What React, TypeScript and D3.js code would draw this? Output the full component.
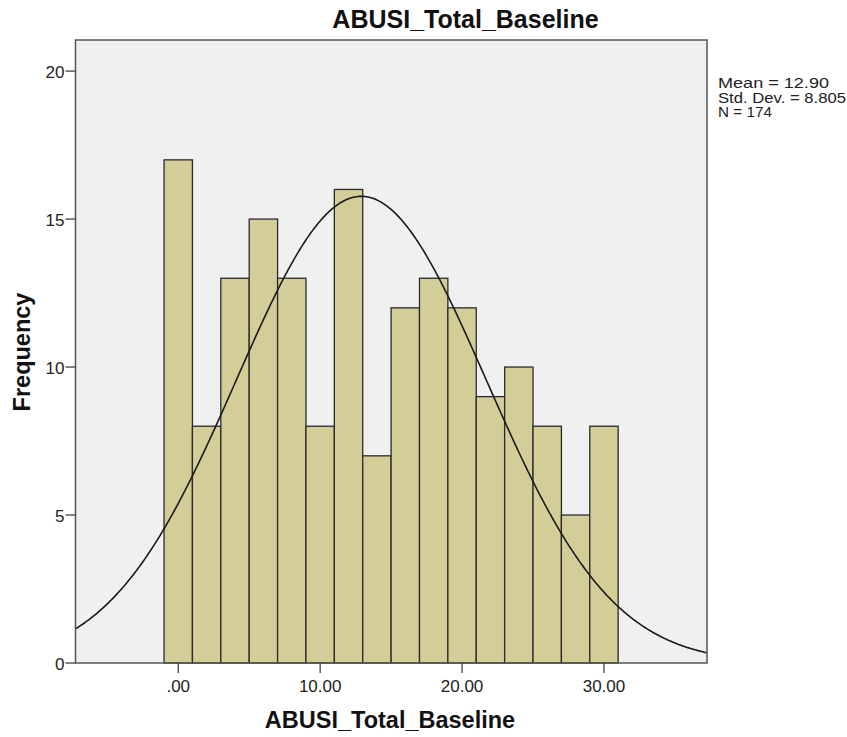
import React from "react";
import * as d3 from "d3";

const binStarts = [-1, 1, 3, 5, 7, 9, 11, 13, 15, 17, 19, 21, 23, 25, 27, 29];
const binWidth = 2;
const frequencies = [17, 8, 13, 15, 13, 8, 16, 7, 12, 13, 12, 9, 10, 8, 5, 8];
const xTicks = [0, 10, 20, 30];
const yTicks = [0, 5, 10, 15, 20];
const mean = 12.9;
const sd = 8.805;
const n = 174;
const legendLines = ["Mean = 12.90", "Std. Dev. = 8.805", "N = 174"];
const legendWidths = [111, 128, 54];

export default function App() {
  const W = 847, H = 737;
  const left = 75.5, right = 707, top = 40, bottom = 663;
  const x = d3.scaleLinear().domain([-7.24, 37.26]).range([left, right]);
  const y = d3.scaleLinear().domain([0, 21.05]).range([bottom, top]);
  const pdf = (v: number) => (n * binWidth) / (sd * Math.sqrt(2 * Math.PI)) * Math.exp(-0.5 * ((v - mean) / sd) ** 2);
  const xs = d3.range(-7.24, 37.26 + 0.001, 0.1);
  const line = d3.line<number>().x(v => x(v)).y(v => y(pdf(v))).curve(d3.curveLinear);
  const font = "Liberation Sans, Arial, sans-serif";
  return (
    <svg width={W} height={H} style={{ position: "absolute", left: 0, top: 0 }} fontFamily={font}>
      <rect x={0} y={0} width={W} height={H} fill="#fff" />
      <rect x={left} y={top} width={right - left} height={bottom - top} fill="#f0f0f0" />
      {binStarts.map((b, i) => (
        <rect key={i} x={x(b)} y={y(frequencies[i])} width={x(b + binWidth) - x(b)} height={bottom - y(frequencies[i])}
          fill="#d3ce97" stroke="#2b2b2b" strokeWidth={1.3} />
      ))}
      <clipPath id="clip"><rect x={left} y={top} width={right - left} height={bottom - top} /></clipPath>
      <path d={line(xs) || ""} fill="none" stroke="#1a1a1a" strokeWidth={1.6} clipPath="url(#clip)" />
      <rect x={left} y={top} width={right - left} height={bottom - top} fill="none" stroke="#555" strokeWidth={1.5} />
      {yTicks.map(t => (
        <g key={t}>
          <line x1={left - 10} x2={left} y1={y(t)} y2={y(t)} stroke="#333" strokeWidth={1.2} />
          <text x={left - 11} y={y(t) + 6.5} textAnchor="end" fontSize={17} fill="#222">{t}</text>
        </g>
      ))}
      {xTicks.map(t => (
        <g key={t}>
          <line x1={x(t)} x2={x(t)} y1={bottom} y2={bottom + 10} stroke="#333" strokeWidth={1.2} />
          <text x={x(t)} y={bottom + 28.5} textAnchor="middle" fontSize={17} fill="#222">{t === 0 ? ".00" : t.toFixed(2)}</text>
        </g>
      ))}
      <text x={465.5} y={28} textAnchor="middle" fontSize={25} fontWeight="bold" fill="#111">ABUSI_Total_Baseline</text>
      <text x={390} y={728} textAnchor="middle" fontSize={23.5} fontWeight="bold" fill="#111">ABUSI_Total_Baseline</text>
      <text transform={`translate(30,352) rotate(-90)`} textAnchor="middle" fontSize={23.5} fontWeight="bold" fill="#111">Frequency</text>
      {legendLines.map((s, i) => (
        <text key={i} x={718} y={88 + i * 14.5} fontSize={14.5} fill="#222" textLength={legendWidths[i]} lengthAdjust="spacingAndGlyphs">{s}</text>
      ))}
    </svg>
  );
}
